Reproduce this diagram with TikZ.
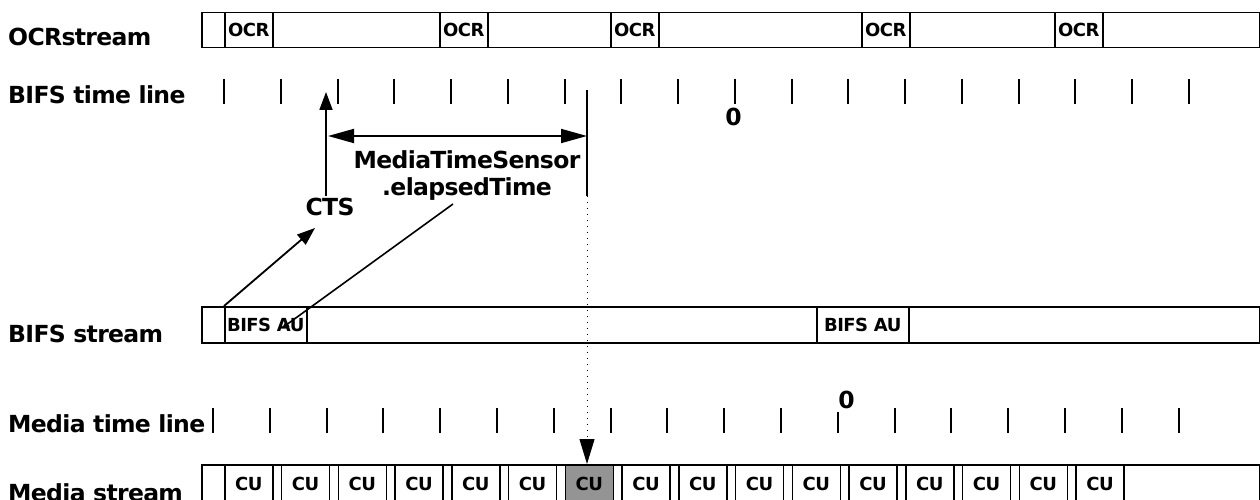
\documentclass[tikz,border=0pt]{standalone}
\usepackage{fontspec}
\setmainfont{DejaVu Sans}[LetterSpace=-2.8]
\usetikzlibrary{positioning,arrows.meta}
\newcommand\bigtxt{\fontsize{23.5}{28}\selectfont\bfseries}
\newcommand\smalltxt{\fontsize{18}{20}\selectfont\bfseries}

\begin{document}
\begin{tikzpicture}[x=1pt,y=-1pt,
  lbl/.style={anchor=base west,font=\bigtxt,inner sep=0pt},
  strm/.style={draw,line width=1.5pt,minimum height=35pt,minimum width=1058pt,anchor=north west,inner sep=0pt},
  unit/.style={draw,line width=1.5pt,minimum height=35pt,minimum width=48pt,anchor=north west,inner sep=0pt,font=\smalltxt},
  tck/.style={line width=2pt},
  arr/.style={line width=1.8pt,-{Triangle[length=18pt,width=13pt]}},
  darr/.style={line width=1.8pt,{Triangle[length=26pt,width=14pt]}-{Triangle[length=26pt,width=14pt]}}]
\clip (0,0) rectangle (1260,500);

% row labels
\node[lbl] (locr) at (8,46) {OCRstream};
\node[lbl] (lbtl) at (8,103) {BIFS time line};
\node[lbl] (lbst) at (8,342) {BIFS stream};
\node[lbl] (lmtl) at (8,432) {Media time line};
\node[lbl] (lmst) at (8,501) {Media stream};

% OCR stream
\node[strm] (ocrs) at (201,12) {};
\foreach \x [count=\i] in {224,439,610,861,1054}
  \node[unit] (ocr\i) at (\x,12) {OCR};

% BIFS time line
\foreach \k in {0,...,17}
  \draw[tck] (224+56.75*\k,79) -- (224+56.75*\k,104);
\node[font=\bigtxt,inner sep=0pt] (bzero) at (733.5,116.5) {0};

% BIFS stream
\node[strm,minimum height=36pt] (bifs) at (201,306) {};
\node[unit,minimum height=36pt,minimum width=82pt] (au1) at (224,306) {BIFS AU};
\node[unit,minimum height=36pt,minimum width=92pt] (au2) at (816,306) {BIFS AU};

% Media time line
\foreach \k in {0,...,17}{
  \ifnum\k=11
    \draw[tck] (213+56.8*\k,412) -- (213+56.8*\k,433);
  \else
    \draw[tck] (213+56.8*\k,408) -- (213+56.8*\k,433);
  \fi}
\node[font=\bigtxt,inner sep=0pt] (mzero) at (846.5,400) {0};

% Media stream
\node[strm,minimum height=38pt] (media) at (201,464) {};
\foreach \k [evaluate=\k as \x using 224+56.75*\k] in {0,...,15}{
  \ifnum\k=6
    \node[unit,minimum height=38pt,fill=black!42] (cu\k) at (\x,464) {CU};
  \else
    \node[unit,minimum height=38pt] (cu\k) at (\x,464) {CU};
  \fi}

% CTS and elapsed time
\node[font=\bigtxt,inner sep=0pt] (cts) at (330,207) {CTS};
\node[font=\bigtxt,inner sep=0pt,align=center] (mts) at (467,176) {MediaTimeSensor\\[-1pt].elapsedTime};
\coordinate (ctstip) at (315,228);
\coordinate (ctsfoot) at (326,196);
\coordinate (ctshead) at (326,92);
\coordinate (now) at (587,90);
\coordinate (nowfoot) at (587,196);
\coordinate (spanl) at (328,136);
\coordinate (aupt) at (282,328);

\draw[arr] (au1.north west) -- (ctstip);
\draw[arr] (ctsfoot) -- (ctshead);
\draw[tck] (now) -- (nowfoot);
\draw[darr] (spanl) -- (spanl -| now);
\draw[line width=1.6pt,-{Triangle[length=7pt,width=6pt]}] (453,204) -- (aupt);
\draw[dash pattern=on 1.2pt off 4.8pt,line width=1pt,-{Triangle[length=25pt,width=15pt]}] (nowfoot) -- (nowfoot |- cu6.north);
\end{tikzpicture}
\end{document}
